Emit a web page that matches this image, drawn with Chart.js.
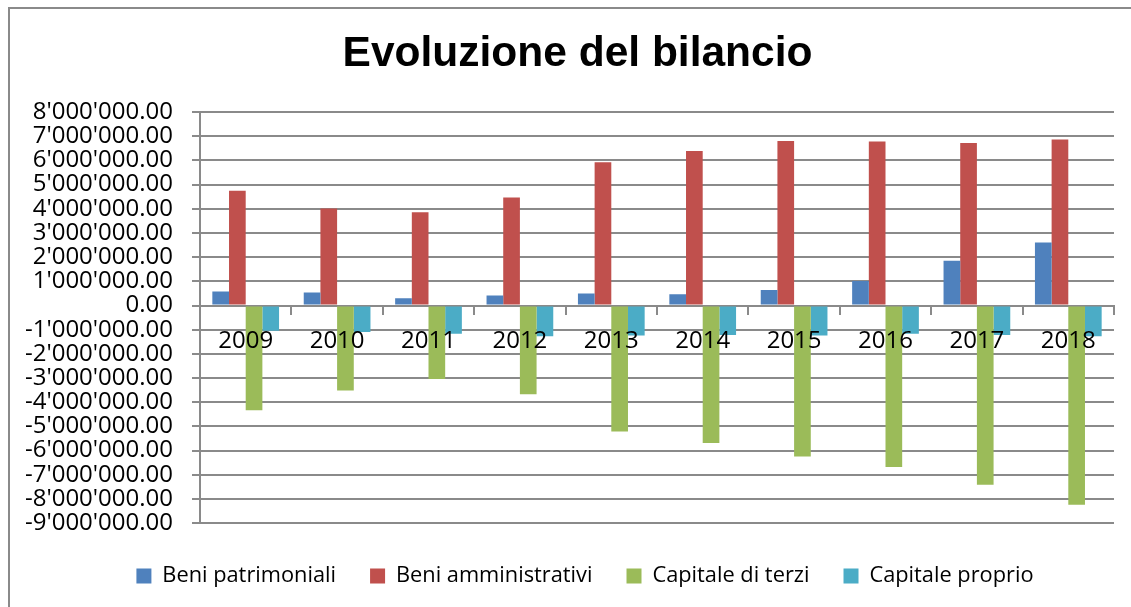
<!DOCTYPE html>
<html>
<head>
<meta charset="utf-8">
<script src="https://cdn.jsdelivr.net/npm/chart.js@4"></script>
<style>
  html, body { margin: 0; padding: 0; background: #fff; }
  #wrap { width: 1131px; height: 607px; position: relative; }
</style>
</head>
<body>
<div id="wrap"><canvas id="chart"></canvas></div>
<script>
// dati
const years = ["2009", "2010", "2011", "2012", "2013", "2014", "2015", "2016", "2017", "2018"];
const beniPatrimoniali = [580000, 540000, 300000, 410000, 500000, 470000, 640000, 1010000, 1850000, 2600000];
const beniAmministrativi = [4740000, 4010000, 3860000, 4470000, 5920000, 6390000, 6800000, 6780000, 6720000, 6860000];
const capitaleTerzi = [-4330000, -3510000, -3040000, -3670000, -5210000, -5680000, -6240000, -6680000, -7410000, -8240000];
const capitaleProprio = [-1040000, -1100000, -1170000, -1270000, -1240000, -1220000, -1240000, -1170000, -1220000, -1270000];

const GRID = "#8a8a8a";

// formato 8'000'000.00
function fmt(v) {
  const neg = v < 0;
  const parts = Math.abs(v).toFixed(2).split(".");
  const intPart = parts[0].replace(/\B(?=(\d{3})+(?!\d))/g, "'");
  return (neg ? "-" : "") + intPart + "." + parts[1];
}

// cornice esterna del grafico
const frame = {
  id: "frame",
  beforeDraw(chart) {
    const ctx = chart.ctx;
    ctx.save();
    ctx.fillStyle = "#fff";
    ctx.fillRect(0, 0, chart.width, chart.height);
    ctx.strokeStyle = GRID;
    ctx.lineWidth = 2;
    ctx.strokeRect(9, 8, 1200, 700);
    ctx.restore();
  }
};

// sposta titolo e legenda come nell'originale
const shift = {
  id: "shift",
  afterLayout(chart) {
    const t = chart.titleBlock;
    t.left += 10.5; t.right += 10.5;
    const l = chart.legend;
    l.left += 18; l.right += 18;
    l.top += 8; l.bottom += 8;
  }
};

const ctx = document.getElementById("chart").getContext("2d");
new Chart(ctx, {
  type: "bar",
  data: {
    labels: years,
    datasets: [
      { label: "Beni patrimoniali", data: beniPatrimoniali, backgroundColor: "#4f81bd" },
      { label: "Beni amministrativi", data: beniAmministrativi, backgroundColor: "#c0504d" },
      { label: "Capitale di terzi", data: capitaleTerzi, backgroundColor: "#9bbb59" },
      { label: "Capitale proprio", data: capitaleProprio, backgroundColor: "#4bacc6" },
    ],
  },
  options: {
    responsive: true,
    maintainAspectRatio: false,
    animation: false,
    datasets: {
      bar: { categoryPercentage: 0.73, barPercentage: 1.0, borderWidth: 0 },
    },
    layout: {
      padding: { left: 20, right: 17, top: 0, bottom: 18 },
    },
    plugins: {
      tooltip: { enabled: false },
      title: {
        display: true,
        text: "Evoluzione del bilancio",
        color: "#000",
        font: { family: "'Liberation Sans', Arial, sans-serif", size: 42.5, weight: "bold", lineHeight: 1.2 },
        padding: { top: 29, bottom: 32 },
      },
      legend: {
        display: true,
        position: "bottom",
        labels: {
          color: "#000",
          font: { family: "'Open Sans', sans-serif", size: 21.8 },
          boxWidth: 15,
          boxHeight: 15,
          padding: 34,
        },
      },
    },
    scales: {
      x: {
        position: { y: 0 },
        offset: true,
        grid: { display: true, drawOnChartArea: false, drawTicks: true, tickLength: 8, color: GRID, lineWidth: 2, offset: true },
        border: { display: true, color: GRID, width: 2 },
        ticks: {
          z: 1,
          color: "#000",
          font: { family: "'Open Sans', sans-serif", size: 24 },
          padding: 13,
          maxRotation: 0,
        },
      },
      y: {
        min: -9000000,
        max: 8000000,
        afterFit: (scale) => { scale.width = 180; },
        grid: { color: GRID, lineWidth: 2, tickLength: 8, drawTicks: true },
        border: { display: true, color: GRID, width: 2 },
        ticks: {
          stepSize: 1000000,
          autoSkip: false,
          color: "#000",
          padding: 19,
          font: { family: "'Open Sans', sans-serif", size: 24, lineHeight: 1.0 },
          callback: (v) => fmt(v),
        },
      },
    },
  },
  plugins: [frame, shift],
});
</script>
</body>
</html>
